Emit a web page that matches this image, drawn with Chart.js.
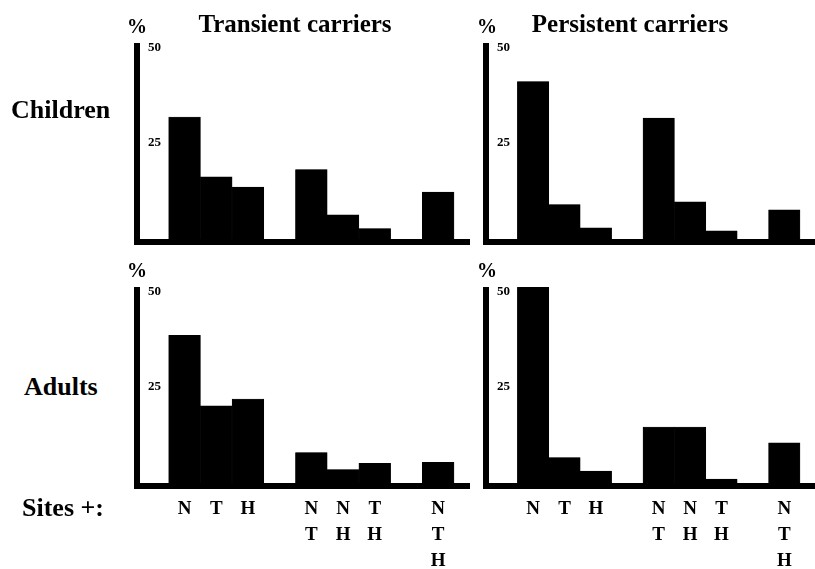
<!DOCTYPE html>
<html>
<head>
<meta charset="utf-8">
<title>Transient and persistent carriers</title>
<script src="https://cdn.jsdelivr.net/npm/chart.js@4.4.0/dist/chart.umd.min.js"></script>
<style>
  body { margin: 0; background: #fff; }
  #wrap { position: relative; width: 815px; height: 569px; overflow: hidden;
          font-family: "Liberation Serif", "DejaVu Serif", serif; font-weight: bold; color: #000; }
  #wrap canvas { position: absolute; }
  .txt { position: absolute; line-height: 1; white-space: nowrap; }
  .title { font-size: 25px; width: 300px; text-align: center; top: 11px; }
  .pct { font-size: 20px; }
  .row { font-size: 26px; }
</style>
</head>
<body>
<div id="wrap">
  <canvas id="childTransientChart" width="370" height="220" style="left:100px;top:30px"></canvas>
  <canvas id="childPersistentChart" width="365" height="220" style="left:450px;top:30px"></canvas>
  <canvas id="adultTransientChart" width="370" height="299" style="left:100px;top:270px"></canvas>
  <canvas id="adultPersistentChart" width="365" height="299" style="left:450px;top:270px"></canvas>

  <div class="txt title" style="left:145px">Transient carriers</div>
  <div class="txt title" style="left:480px">Persistent carriers</div>
  <div class="txt pct" style="left:127px;top:16px">%</div>
  <div class="txt pct" style="left:477px;top:16px">%</div>
  <div class="txt pct" style="left:127px;top:260px">%</div>
  <div class="txt pct" style="left:477px;top:260px">%</div>
  <div class="txt row" style="left:11px;top:97px">Children</div>
  <div class="txt row" style="left:24px;top:374px">Adults</div>
  <div class="txt row" style="left:22px;top:495px">Sites +:</div>
</div>

<script>
// site combinations (empty entries are the spacers between groups)
const siteGroups = ['', 'N', 'T', 'H', '', 'NT', 'NH', 'TH', '', 'NTH'];

// % of carriers positive at each site combination
const childTransient  = [null, 31.8, 16.2, 13.5, null, 18.1, 6.3, 2.7, null, 12.2];
const childPersistent = [null, 41.0, 9.0, 2.9, null, 31.5, 9.7, 2.1, null, 7.6];
const adultTransient  = [null, 38.5, 20.1, 21.9, null, 7.9, 3.5, 5.1, null, 5.4];
const adultPersistent = [null, 51.0, 6.6, 3.1, null, 14.6, 14.6, 1.0, null, 10.5];

const yTicks = [25, 50];
const yMax = 50.3;

const serif = '"Liberation Serif", "DejaVu Serif", serif';

// thick black baseline running under the bars to the panel edge
const baselinePlugin = {
    id: 'baseline',
    beforeDatasetsDraw(chart) {
        const { ctx, chartArea } = chart;
        ctx.save();
        ctx.fillStyle = '#000';
        ctx.fillRect(chartArea.left - 3, chartArea.bottom, chart.width - chartArea.left + 3, 6);
        ctx.restore();
    }
};

function makePanel(id, values, showSites, yWidth, padRight, padTop, xHeight) {
    new Chart(document.getElementById(id), {
        type: 'bar',
        data: {
            labels: siteGroups,
            datasets: [{
                data: values,
                backgroundColor: '#000',
                borderColor: '#000',
                borderWidth: 0.5,
                barPercentage: 1,
                categoryPercentage: 1,
                clip: false
            }]
        },
        options: {
            responsive: false,
            animation: false,
            layout: { padding: { top: padTop, right: padRight, left: 0, bottom: 0 } },
            plugins: {
                legend: { display: false },
                tooltip: { enabled: false }
            },
            scales: {
                x: {
                    grid: { display: false },
                    border: { display: false },
                    afterFit: s => { s.height = xHeight; s.paddingLeft = 0; s.paddingRight = 0; },
                    ticks: {
                        display: showSites,
                        autoSkip: false,
                        maxRotation: 0,
                        minRotation: 0,
                        padding: 5,
                        color: '#000',
                        font: { family: serif, size: 19, weight: 'bold', lineHeight: 26 / 19 },
                        callback: (v, i) => siteGroups[i] ? siteGroups[i].split('') : ''
                    }
                },
                y: {
                    min: 0,
                    max: yMax,
                    grid: { display: false, drawTicks: false },
                    border: { display: true, width: 6, color: '#000' },
                    afterFit: s => { s.width = yWidth; s.paddingTop = 0; s.paddingBottom = 0; },
                    afterBuildTicks: s => { s.ticks = yTicks.map(v => ({ value: v })); },
                    ticks: {
                        mirror: true,
                        padding: 11,
                        color: '#000',
                        font: { family: serif, size: 13, weight: 'bold' }
                    }
                }
            }
        },
        plugins: [baselinePlugin]
    });
}

makePanel('childTransientChart', childTransient, false, 37, 16, 16, 11);
makePanel('childPersistentChart', childPersistent, false, 36, 15, 16, 11);
makePanel('adultTransientChart', adultTransient, true, 37, 16, 20, 86);
makePanel('adultPersistentChart', adultPersistent, true, 36, 15, 20, 86);
</script>
</body>
</html>
